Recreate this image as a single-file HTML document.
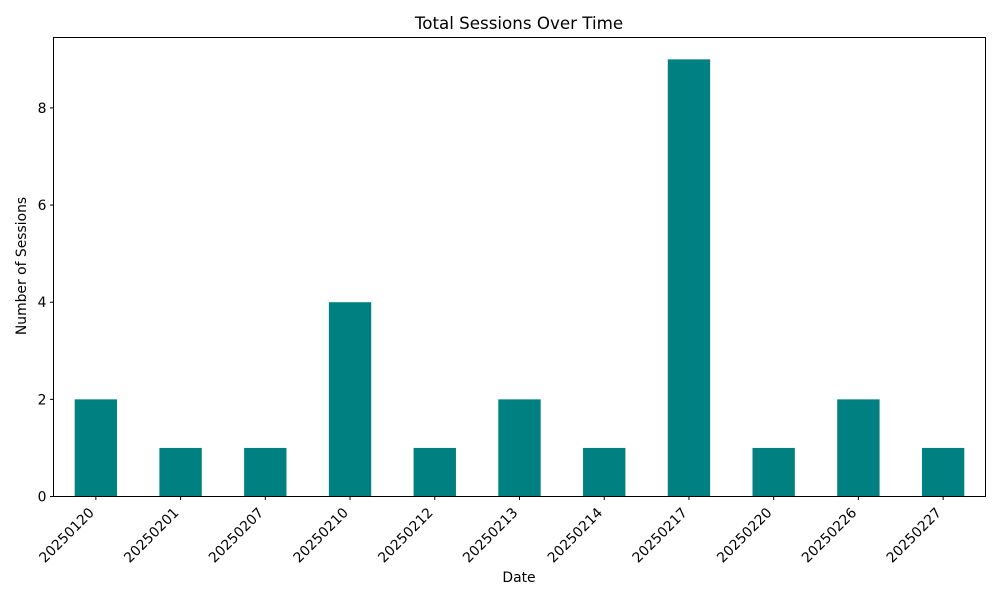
<!DOCTYPE html>
<html><head><meta charset="utf-8"><style>
body{margin:0;background:#fff;font-family:"DejaVu Sans","Liberation Sans",sans-serif;}
</style></head><body>
<svg id="chart" width="1000" height="600" xmlns="http://www.w3.org/2000/svg" font-family="DejaVu Sans, Liberation Sans, sans-serif">
<rect width="1000" height="600" fill="#fff"/>
<text x="519" y="29" text-anchor="middle" font-size="16.7">Total Sessions Over Time</text>
<text x="519" y="582" text-anchor="middle" font-size="13.9">Date</text>
<text transform="translate(26,266) rotate(-90)" text-anchor="middle" font-size="13.9">Number of Sessions</text>
<g id="marks"></g>
<rect x="53.5" y="37.5" width="932" height="459" fill="none" stroke="#000" stroke-width="1"/>
</svg>
<script>
const categories = ["20250120","20250201","20250207","20250210","20250212","20250213","20250214","20250217","20250220","20250226","20250227"];
const sessions = [2,1,1,4,1,2,1,9,1,2,1];
const yTicks = [0,2,4,6,8];

const plotL=53.5,plotR=985.5,plotT=37.5,plotB=496.5;
const yMax = Math.max(...sessions)*1.05;
const xScale = i => plotL + (i+0.5)/categories.length*(plotR-plotL);
const yScale = v => plotB - v/yMax*(plotB-plotT);
const bw = 0.5*(plotR-plotL)/categories.length;
const ns="http://www.w3.org/2000/svg";
const g=document.getElementById('marks');
function mk(t,a){const e=document.createElementNS(ns,t);for(const k in a)e.setAttribute(k,a[k]);g.appendChild(e);return e;}
sessions.forEach((v,i)=>{
  const r=mk('rect',{x:xScale(i)-bw/2,y:yScale(v),width:bw,height:plotB-yScale(v),fill:'#008080'});
  
  
});
categories.forEach((c,i)=>{
  const x=xScale(i);
  const t=mk('line',{x1:x,x2:x,y1:plotB,y2:plotB+3.5,stroke:'#000'});
  
  
  const l=mk('text',{x:0,y:0,'font-size':13.9,'text-anchor':'end',transform:`translate(${x-1},${plotB+17}) rotate(-45)`});
  l.textContent=c;
  
  
});
yTicks.forEach(v=>{
  const y=yScale(v);
  const t=mk('line',{x1:plotL-3.5,x2:plotL,y1:y,y2:y,stroke:'#000'});
  
  
  const l=mk('text',{x:plotL-7,y:y+5,'font-size':13.9,'text-anchor':'end'});
  l.textContent=v;
  
  
});
</script>
</body></html>
